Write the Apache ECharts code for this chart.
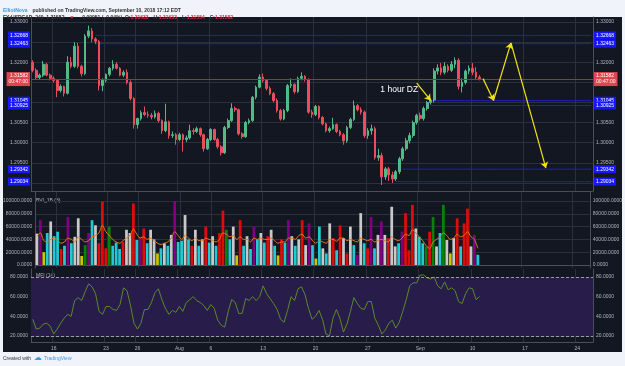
<!DOCTYPE html>
<html>
<head>
<meta charset="utf-8">
<script src="https://cdn.jsdelivr.net/npm/echarts@6/dist/echarts.min.js"></script>
<style>
  html, body { margin: 0; padding: 0; background: #f0f3fa; }
  #chart { width: 625px; height: 366px; }
</style>
</head>
<body>
<div id="chart"></div>
<script>
// trading days on the axis, three 8h bars each
const days = ['Jul 12','Jul 13','Jul 16','Jul 17','Jul 18','Jul 19','Jul 20','Jul 23','Jul 24','Jul 25','Jul 26','Jul 27','Jul 30','Jul 31',
  'Aug 1','Aug 2','Aug 3','Aug 6','Aug 7','Aug 8','Aug 9','Aug 10','Aug 13','Aug 14','Aug 15','Aug 16','Aug 17','Aug 20','Aug 21','Aug 22','Aug 23','Aug 24','Aug 27','Aug 28','Aug 29','Aug 30','Aug 31',
  'Sep 3','Sep 4','Sep 5','Sep 6','Sep 7','Sep 10','Sep 11','Sep 12','Sep 13','Sep 14','Sep 17','Sep 18','Sep 19','Sep 20','Sep 21','Sep 24','Sep 25']
const sessions = ['00', '08', '16']
const barCount = 161
const tickDays = ['Jul 16','Jul 23','Jul 26','Aug 1','Aug 6','Aug 13','Aug 20','Aug 27','Sep 3','Sep 10','Sep 17','Sep 24']
const tickLabels = ['16','23','26','Aug','6','13','20','27','Sep','10','17','24']

const opens = [1.3200,1.3180,1.3162,1.3168,1.3195,1.3168,1.3160,1.3155,1.3130,1.3140,
  1.3123,1.3200,1.3190,1.3240,1.3190,1.3172,1.3265,1.3278,1.3258,1.3252,
  1.3142,1.3155,1.3170,1.3185,1.3195,1.3185,1.3168,1.3175,1.3150,1.3110,
  1.3045,1.3060,1.3075,1.3070,1.3068,1.3064,1.3073,1.3055,1.3030,1.3052,
  1.3018,1.3020,1.3008,1.3020,1.3008,1.3012,1.3030,1.3028,1.3035,1.3020,
  1.2985,1.3008,1.3033,1.3008,1.2990,1.2975,1.3038,1.3055,1.3085,1.3082,
  1.3022,1.3015,1.3050,1.3055,1.3113,1.3138,1.3163,1.3155,1.3135,1.3122,
  1.3105,1.3080,1.3059,1.3080,1.3142,1.3145,1.3127,1.3160,1.3165,1.3157,
  1.3076,1.3070,1.3090,1.3063,1.3047,1.3030,1.3035,1.3045,1.3028,1.3020,
  1.3005,1.3038,1.3058,1.3092,1.3082,1.3076,1.3018,1.3030,1.3035,1.2963,
  1.2968,1.2915,1.2935,1.2920,1.2910,1.2928,1.2960,1.2985,1.3005,1.3018,
  1.3050,1.3068,1.3060,1.3085,1.3100,1.3106,1.3178,1.3186,1.3175,1.3190,
  1.3180,1.3195,1.3205,1.3140,1.3150,1.3178,1.3185,1.3175,1.3163]
const closes = [1.3180,1.3162,1.3168,1.3195,1.3168,1.3160,1.3155,1.3130,1.3140,1.3123,
  1.3200,1.3190,1.3240,1.3190,1.3172,1.3265,1.3278,1.3258,1.3252,1.3142,
  1.3155,1.3170,1.3185,1.3195,1.3185,1.3168,1.3175,1.3150,1.3110,1.3045,
  1.3060,1.3075,1.3070,1.3068,1.3064,1.3073,1.3055,1.3030,1.3052,1.3018,
  1.3020,1.3008,1.3020,1.3008,1.3012,1.3030,1.3028,1.3035,1.3020,1.2985,
  1.3008,1.3033,1.3008,1.2990,1.2975,1.3038,1.3055,1.3085,1.3082,1.3022,
  1.3015,1.3050,1.3055,1.3113,1.3138,1.3163,1.3155,1.3135,1.3122,1.3105,
  1.3080,1.3059,1.3080,1.3142,1.3145,1.3127,1.3160,1.3165,1.3157,1.3076,
  1.3070,1.3090,1.3063,1.3047,1.3030,1.3035,1.3045,1.3028,1.3020,1.3005,
  1.3038,1.3058,1.3092,1.3082,1.3076,1.3018,1.3030,1.3035,1.2963,1.2968,
  1.2915,1.2935,1.2920,1.2910,1.2928,1.2960,1.2985,1.3005,1.3018,1.3050,
  1.3068,1.3060,1.3085,1.3100,1.3106,1.3178,1.3186,1.3175,1.3190,1.3180,
  1.3195,1.3205,1.3140,1.3150,1.3178,1.3185,1.3175,1.3163,1.31582]
const highs = [1.3205,1.3185,1.3172,1.3203,1.3198,1.3172,1.3165,1.3158,1.3145,1.3142,
  1.3215,1.3213,1.3250,1.3248,1.3194,1.3270,1.3291,1.3285,1.3262,1.3255,
  1.3160,1.3172,1.3188,1.3205,1.3200,1.3188,1.3180,1.3182,1.3155,1.3113,
  1.3062,1.3080,1.3090,1.3078,1.3074,1.3080,1.3077,1.3058,1.3097,1.3055,
  1.3028,1.3024,1.3025,1.3023,1.3018,1.3045,1.3036,1.3040,1.3038,1.3022,
  1.3012,1.3036,1.3035,1.3012,1.2994,1.3042,1.3060,1.3098,1.3090,1.3085,
  1.3026,1.3054,1.3060,1.3116,1.3142,1.3170,1.3172,1.3158,1.3140,1.3126,
  1.3110,1.3084,1.3084,1.3146,1.3160,1.3148,1.3164,1.3175,1.3168,1.3160,
  1.3082,1.3094,1.3093,1.3066,1.3050,1.3040,1.3062,1.3048,1.3032,1.3024,
  1.3042,1.3062,1.3105,1.3096,1.3088,1.3080,1.3036,1.3045,1.3040,1.2985,
  1.2975,1.2940,1.2940,1.2928,1.2932,1.2965,1.2990,1.3012,1.3025,1.3055,
  1.3072,1.3075,1.3090,1.3104,1.3110,1.3185,1.3195,1.3198,1.3200,1.3195,
  1.3203,1.3212,1.3210,1.3160,1.3182,1.3192,1.3198,1.3188,1.3168]
const lows = [1.3175,1.3158,1.3158,1.3163,1.3165,1.3155,1.3150,1.3113,1.3125,1.3115,
  1.3120,1.3185,1.3186,1.3185,1.3165,1.3168,1.3260,1.3250,1.3245,1.3130,
  1.3128,1.3150,1.3165,1.3180,1.3182,1.3165,1.3163,1.3145,1.3105,1.3035,
  1.3035,1.3055,1.3066,1.3062,1.3058,1.3060,1.3050,1.3022,1.3026,1.3010,
  1.3012,1.2995,1.3004,1.2978,1.3002,1.3008,1.3020,1.3024,1.3015,1.2978,
  1.2982,1.3004,1.3005,1.2985,1.2968,1.2972,1.3034,1.3052,1.3076,1.3018,
  1.3010,1.3012,1.3046,1.3052,1.3108,1.3135,1.3150,1.3130,1.3118,1.3100,
  1.3075,1.3055,1.3056,1.3076,1.3136,1.3122,1.3124,1.3155,1.3152,1.3072,
  1.3062,1.3066,1.3058,1.3043,1.3026,1.3025,1.3032,1.3024,1.3016,1.2995,
  1.3000,1.3034,1.3054,1.3078,1.3070,1.3012,1.3010,1.3020,1.2958,1.2955,
  1.2895,1.2908,1.2905,1.2900,1.2905,1.2922,1.2955,1.2980,1.2998,1.3012,
  1.3045,1.3055,1.3055,1.3080,1.3095,1.3100,1.3170,1.3168,1.3170,1.3175,
  1.3176,1.3185,1.3132,1.3125,1.3145,1.3170,1.3168,1.3158,1.3155]

// BVI volume and its colour class per bar
const volumes = [49000,70000,20000,50000,68000,45000,52000,25000,30000,75000,
  34000,44000,73000,14000,31000,50000,70000,62000,34000,99000,
  26000,60000,30000,35000,25000,36000,55000,50000,96000,39000,
  44000,57000,34000,55000,40000,18000,26000,34000,30000,47000,
  100000,36000,38000,78000,40000,30000,55000,30000,40000,60000,
  35000,45000,30000,50000,85000,55000,40000,60000,15000,70000,
  30000,45000,25000,60000,40000,50000,35000,45000,55000,30000,
  15000,40000,35000,70000,45000,30000,40000,70000,31000,65000,
  31000,10000,60000,26000,18000,65000,42000,23000,62000,42000,
  18000,60000,31000,16000,81000,34000,26000,75000,26000,47000,
  68000,47000,42000,91000,29000,34000,52000,81000,23000,94000,
  57000,44000,34000,29000,52000,75000,29000,50000,94000,39000,
  18000,42000,73000,29000,65000,88000,29000,47000,16000]
const volClass = ['w','p','y','c','w','c','c','r','c','p',
  'c','w','w','y','g','p','c','w','r','r',
  'r','g','c','c','c','r','w','w','r','c',
  'p','r','c','w','w','y','c','w','c','w',
  'p','c','c','w','c','r','w','c','w','r',
  'c','w','c','r','r','g','c','w','y','r',
  'c','w','c','p','c','w','c','r','w','c',
  'y','r','c','p','w','c','w','r','w','p',
  'c','y','c','w','c','w','r','c','r','w',
  'r','w','c','p','w','c','r','p','c','w',
  'p','w','r','w','w','c','p','r','r','r',
  'w','c','c','g','r','g','w','c','g','w',
  'y','w','r','c','r','r','w','p','c']
const volAvg = [45000,50000,38000,36000,40000,42000,38000,34000,36000,42000,
  40000,36000,44000,40000,36000,38000,44000,46000,50000,62000,
  52000,46000,40000,36000,34000,38000,42000,46000,56000,48000,
  42000,44000,40000,42000,38000,34000,32000,34000,36000,42000,
  52000,46000,40000,46000,42000,38000,42000,38000,38000,42000,
  40000,38000,36000,40000,50000,48000,44000,46000,40000,44000,
  40000,40000,36000,42000,40000,42000,40000,40000,42000,38000,
  34000,36000,36000,42000,42000,40000,46000,48000,42000,44000,
  38000,34000,38000,36000,34000,40000,40000,37000,42000,42000,
  38000,40000,38000,36000,42000,40000,38000,40000,36000,38000,
  40000,38000,36000,44000,40000,38000,42000,48000,46000,55000,
  50000,44000,38000,30000,26000,36000,40000,44000,50000,46000,
  40000,42000,48000,44000,46000,52000,44000,40000,26000]
const mfi = [37,27,28,32,33,30,22,27,33,38,
  42,40,56,59,56,65,73,70,63,45,
  42,50,50,47,46,52,69,66,51,33,
  27,33,47,47,54,64,68,57,48,42,
  46,44,50,45,54,57,60,56,54,51,
  46,52,48,36,31,29,45,57,54,43,
  43,58,56,60,56,60,71,63,58,53,
  47,37,34,46,60,56,68,70,62,48,
  37,40,46,37,22,20,38,47,38,24,
  32,45,59,53,48,47,55,55,38,31,
  22,26,33,36,28,34,45,57,71,74,
  74,82,82,79,78,80,71,68,75,67,
  69,66,55,53,63,69,68,57,60]

const lastPrice = 1.31582
// drawn levels: price and first bar of the line
const levels = [[1.32668, 18], [1.32463, 18], [1.31045, 114], [1.30925, 114], [1.29342, 106], [1.29034, 104]]
// yellow annotations: [bar, price] pairs
const arrows = [
  [[110, 1.31483], [114, 1.3105]],
  [[129, 1.31593], [132, 1.3105]],
  [[132, 1.3105], [137, 1.32483]],
  [[137, 1.32483], [147, 1.29368]]
]
const dzNote = [105, 1.31325]

const priceTicks = [1.29, 1.295, 1.30, 1.305, 1.31, 1.315, 1.32, 1.325, 1.33]
const volTicks = [0, 20000, 40000, 60000, 80000, 100000]
const mfiTicks = [20, 40, 60, 80]

const bviColors = { w: '#c8c8c8', p: '#800080', y: '#c8c800', c: '#22c8d2', r: '#e00c0c', g: '#0b7f0b' }

const categories = []
days.forEach(d => sessions.forEach(s => categories.push(d + ' ' + s)))
categories.length = barCount

const isTick = (i, v) => v.endsWith(' 00') && tickDays.includes(v.slice(0, -3))
const tickName = v => tickLabels[tickDays.indexOf(v.slice(0, -3))]

const textColor = '#b2b5be'
const gridColor = '#2c303c'
const paneLine = '#4a4e5a'
const levelBlue = '#2020c4'
const font = 'Liberation Sans'

const makeX = (grid, labels) => ({
  type: 'category', gridIndex: grid, data: categories, boundaryGap: true,
  axisLine: { show: true, lineStyle: { color: paneLine } },
  axisTick: { show: false },
  axisLabel: { show: labels, interval: isTick, formatter: tickName, color: textColor, fontSize: 5, margin: 4, fontFamily: font },
  splitLine: { show: true, interval: isTick, lineStyle: { color: gridColor } }
})

const makeY = (grid, side, min, max, ticks, digits) => ({
  type: 'value', gridIndex: grid, position: side, min, max, scale: true,
  axisLine: { show: true, lineStyle: { color: paneLine } },
  axisTick: { show: false, customValues: ticks },
  axisLabel: { customValues: ticks, formatter: v => v.toFixed(digits), color: textColor, fontSize: 5, margin: 3, fontFamily: font },
  splitLine: { show: side === 'left', lineStyle: { color: gridColor } }
})

const tag = (pos, text, bg) => ({
  show: true, position: pos, formatter: text, backgroundColor: bg, color: '#fff',
  fontSize: 5, lineHeight: 6, padding: [1, 2], distance: 1, fontFamily: font
})

// axis tags for the levels and the last price, yellow arrows
const marks = []
levels.forEach(([p]) => {
  marks.push({ yAxis: p, lineStyle: { color: 'rgba(0,0,0,0)' }, label: tag('start', p.toFixed(5), '#1717ff') })
  marks.push({ yAxis: p, lineStyle: { color: 'rgba(0,0,0,0)' }, label: tag('end', p.toFixed(5), '#1717ff') })
})
const priceText = lastPrice.toFixed(5) + '\n00:47:00'
marks.push({ yAxis: lastPrice, lineStyle: { color: '#a3313b' }, label: tag('start', priceText, '#e0454f') })
marks.push({ yAxis: lastPrice, lineStyle: { color: '#a3313b' }, label: tag('end', priceText, '#e0454f') })
arrows.forEach(([a, b]) => {
  marks.push([
    { coord: a, symbol: 'none', lineStyle: { color: '#f2e40f', width: 1.2 } },
    { coord: b, symbol: 'arrow', symbolSize: 6 }
  ])
})

const levelSeries = levels.map(([p, from]) => ({
  type: 'line', xAxisIndex: 0, yAxisIndex: 0, silent: true, showSymbol: false, z: 1,
  data: categories.map((c, i) => (i >= from ? p : null)),
  lineStyle: { color: levelBlue, width: 1 }
}))

const chart = echarts.init(document.getElementById('chart'))
chart.setOption({
  animation: false,
  backgroundColor: '#f0f3fa',
  textStyle: { fontFamily: font },
  graphic: [
    { type: 'rect', z: -10, silent: true, shape: { x: 3, y: 17, width: 619, height: 335 }, style: { fill: '#131722' } },
    { type: 'text', left: 36, top: 198, style: { text: 'BVI_1B (8)', fill: textColor, fontSize: 5, fontFamily: font } },
    { type: 'text', left: 36, top: 273, style: { text: 'MFI (14)', fill: textColor, fontSize: 5, fontFamily: font } },
    { type: 'text', left: 3, top: 356, style: { text: 'Created with', fill: '#333', fontSize: 5, fontFamily: font } },
    { type: 'text', left: 34, top: 354, style: { text: '☁', fill: '#3c9be8', fontSize: 8, fontFamily: 'DejaVu Sans' } },
    { type: 'text', left: 44, top: 356, style: { text: 'TradingView', fill: '#3c9be8', fontSize: 5, fontFamily: font } }
  ],
  title: [
    {
      left: 3, top: 2, padding: 0,
      text: '{a|ElliotNova} {b|published on TradingView.com, September 10, 2018 17:12 EDT}',
      textStyle: { rich: { a: { color: '#3c9be8', fontSize: 5 }, b: { color: '#333', fontSize: 5 } } }
    },
    {
      left: 3, top: 9, padding: 0,
      text: '{b|FX:USDCAD, 240  1.31582} {r|▼} {b|−0.00051 (−0.04%)  O:}{r|1.31633} {b|H:}{r|1.31633} {b|L:}{r|1.31554} {b|C:}{r|1.31582}',
      textStyle: { rich: { b: { color: '#333', fontSize: 5 }, r: { color: '#e0303a', fontSize: 5 } } }
    }
  ],
  grid: [
    { left: 31, right: 32, top: 17, height: 174 },
    { left: 31, right: 32, top: 192, height: 76 },
    { left: 31, right: 32, top: 269, height: 73 }
  ],
  xAxis: [makeX(0, false), makeX(1, false), makeX(2, true)],
  yAxis: [
    makeY(0, 'left', 1.288, 1.33125, priceTicks, 5),
    makeY(0, 'right', 1.288, 1.33125, priceTicks, 5),
    makeY(1, 'left', -4700, 114000, volTicks, 4),
    makeY(1, 'right', -4700, 114000, volTicks, 4),
    makeY(2, 'left', 13.9, 88.1, mfiTicks, 4),
    makeY(2, 'right', 13.9, 88.1, mfiTicks, 4)
  ],
  series: [
    ...levelSeries,
    {
      type: 'candlestick', xAxisIndex: 0, yAxisIndex: 0, barWidth: '62%', z: 3,
      data: opens.map((o, i) => [o, closes[i], lows[i], highs[i]]),
      itemStyle: { color: '#53b987', color0: '#eb4d5c', borderColor: '#53b987', borderColor0: '#eb4d5c', borderWidth: 1 },
      markLine: {
        silent: true, symbol: ['none', 'none'], precision: 5,
        label: { show: false },
        lineStyle: { color: levelBlue, width: 1, type: 'solid' },
        data: marks
      },
      markPoint: {
        silent: true, symbol: 'circle', symbolSize: 1, itemStyle: { color: 'rgba(0,0,0,0)' },
        label: { show: true, position: 'inside', formatter: '1 hour DZ', color: '#ffffff', fontSize: 8.5, fontFamily: font },
        data: [{ coord: dzNote }]
      }
    },
    {
      type: 'bar', xAxisIndex: 1, yAxisIndex: 2, barWidth: '80%',
      data: volumes.map((v, i) => ({ value: v, itemStyle: { color: bviColors[volClass[i]] } }))
    },
    {
      type: 'line', xAxisIndex: 1, yAxisIndex: 2, data: volAvg, showSymbol: false, smooth: 0.3,
      lineStyle: { color: '#e07b1a', width: 1 }
    },
    {
      type: 'line', xAxisIndex: 2, yAxisIndex: 4, data: mfi, showSymbol: false,
      lineStyle: { color: '#5a8a2a', width: 1 },
      markArea: { silent: true, itemStyle: { color: '#271c4a' }, data: [[{ yAxis: 20 }, { yAxis: 80 }]] },
      markLine: {
        silent: true, symbol: ['none', 'none'], label: { show: false },
        lineStyle: { color: '#9a9aa8', type: [3, 2], width: 1 },
        data: [{ yAxis: 20 }, { yAxis: 80 }]
      }
    }
  ]
})
</script>
</body>
</html>
